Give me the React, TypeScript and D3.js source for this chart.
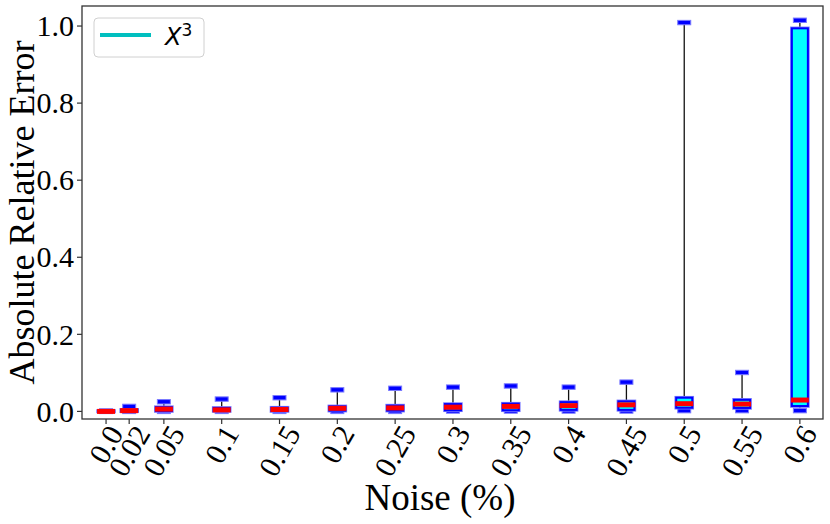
import React from 'react';
import * as d3 from 'd3';

// noise levels and box statistics
const noise = [0.0, 0.02, 0.05, 0.1, 0.15, 0.2, 0.25, 0.3, 0.35, 0.4, 0.45, 0.5, 0.55, 0.6];
const tickLabels = ['0.0', '0.02', '0.05', '0.1', '0.15', '0.2', '0.25', '0.3', '0.35', '0.4', '0.45', '0.5', '0.55', '0.6'];
const whiskerLow = [0, 0, 0, 0, 0, 0, 0, 0.001, 0.001, 0.001, 0.001, 0.002, 0.002, 0.002];
const q1 = [0, 0.0005, 0.001, 0.001, 0.001, 0.002, 0.002, 0.003, 0.003, 0.004, 0.004, 0.0096, 0.009, 0.014];
const median = [0, 0.002, 0.006, 0.004, 0.005, 0.008, 0.009, 0.011, 0.013, 0.015, 0.017, 0.02, 0.019, 0.0295];
const q3 = [0.001, 0.004, 0.011, 0.009, 0.0096, 0.013, 0.015, 0.019, 0.02, 0.024, 0.026, 0.0355, 0.03, 0.994];
const whiskerHigh = [0.001, 0.013, 0.025, 0.032, 0.0355, 0.056, 0.06, 0.063, 0.066, 0.063, 0.076, 1.009, 0.101, 1.015];
const yTicks = [0, 0.2, 0.4, 0.6, 0.8, 1.0];

const W = 830;
const H = 524;
const left = 82, right = 823, top = 6, bottom = 419;
const serif = '"Liberation Serif", "Times New Roman", serif';

const App = () => {
  const x = d3.scaleLinear().domain([-0.0208, 0.62]).range([left, right]);
  const y = d3.scaleLinear().domain([-0.0197, 1.052]).range([bottom, top]);

  const boxW = 16;
  const capW = 13;
  const tickFs = 30;

  return (
    <svg width={W} height={H} style={{ position: 'absolute', left: 0, top: 0, background: '#fff' }}>
      <rect x={0} y={0} width={W} height={H} fill="#fff" />

      {/* boxes */}
      {noise.map((n, i) => {
        const cx = x(n);
        return (
          <g key={i}>
            <line x1={cx} x2={cx} y1={y(q3[i])} y2={y(whiskerHigh[i])} stroke="#111" strokeWidth={1.3} />
            <line x1={cx} x2={cx} y1={y(q1[i])} y2={y(whiskerLow[i])} stroke="#111" strokeWidth={1.3} />
            <rect x={cx - capW / 2} y={y(whiskerHigh[i]) - 2.2} width={capW} height={4.4}
              fill="#0000ff" stroke="#7a7aff" strokeWidth={1} />
            <rect x={cx - capW / 2} y={y(whiskerLow[i]) - 2.2} width={capW} height={4.4}
              fill="#0000ff" stroke="#7a7aff" strokeWidth={1} />
            <rect x={cx - boxW / 2} y={y(q3[i])} width={boxW} height={Math.max(0, y(q1[i]) - y(q3[i]))}
              fill="#00ffff" stroke="#7a7aff" strokeWidth={3.6} />
            <rect x={cx - boxW / 2} y={y(q3[i])} width={boxW} height={Math.max(0, y(q1[i]) - y(q3[i]))}
              fill="#00ffff" stroke="#0000ff" strokeWidth={2} />
            <rect x={cx - boxW / 2 - 1} y={y(median[i]) - 2.5} width={boxW + 2} height={5} fill="#ff0000" />
          </g>
        );
      })}

      {/* frame */}
      <rect x={left} y={top} width={right - left} height={bottom - top} fill="none" stroke="#333" strokeWidth={1.3} />

      {/* y axis */}
      {yTicks.map(t => (
        <g key={t}>
          <line x1={left - 5} x2={left} y1={y(t)} y2={y(t)} stroke="#333" strokeWidth={1.2} />
          <text x={left - 8} y={y(t)} dy="0.34em" textAnchor="end" fontFamily={serif} fontSize={tickFs} fill="#000">
            {t.toFixed(1)}
          </text>
        </g>
      ))}

      {/* x axis */}
      {noise.map((n, i) => {
        const lab = tickLabels[i];
        const digits = lab.replace('.', '').length;
        const w = tickFs * (0.5 * digits + 0.25);
        const cy = 423 + (w * Math.sin(Math.PI / 3) + 0.7 * tickFs * 0.5) / 2;
        return (
          <g key={lab}>
            <line x1={x(n)} x2={x(n)} y1={bottom} y2={bottom + 5} stroke="#333" strokeWidth={1.2} />
            <text transform={`translate(${x(n)},${cy}) rotate(-60)`} dy="0.34em" textAnchor="middle"
              fontFamily={serif} fontSize={tickFs} fill="#000">
              {lab}
            </text>
          </g>
        );
      })}

      {/* axis labels */}
      <text x={440} y={510} textAnchor="middle" fontFamily={serif} fontSize={37} fill="#000">
        Noise (%)
      </text>
      <text transform={`translate(34,${(top + bottom) / 2}) rotate(-90)`} textAnchor="middle"
        fontFamily={serif} fontSize={36} fill="#000">
        Absolute Relative Error
      </text>

      {/* legend */}
      <rect x={94} y={18} width={110} height={39} rx={4} fill="#fff" fillOpacity={0.8} stroke="#d0d0d0" strokeWidth={1} />
      <line x1={100} x2={151} y1={35} y2={35} stroke="#00bfbf" strokeWidth={4} />
      <text x={165} y={45} fontFamily='"DejaVu Sans", sans-serif' fontSize={24} fill="#000">
        <tspan fontStyle="italic">X</tspan>
        <tspan fontSize={17} dy={-9}>3</tspan>
      </text>
    </svg>
  );
};

export default App;
